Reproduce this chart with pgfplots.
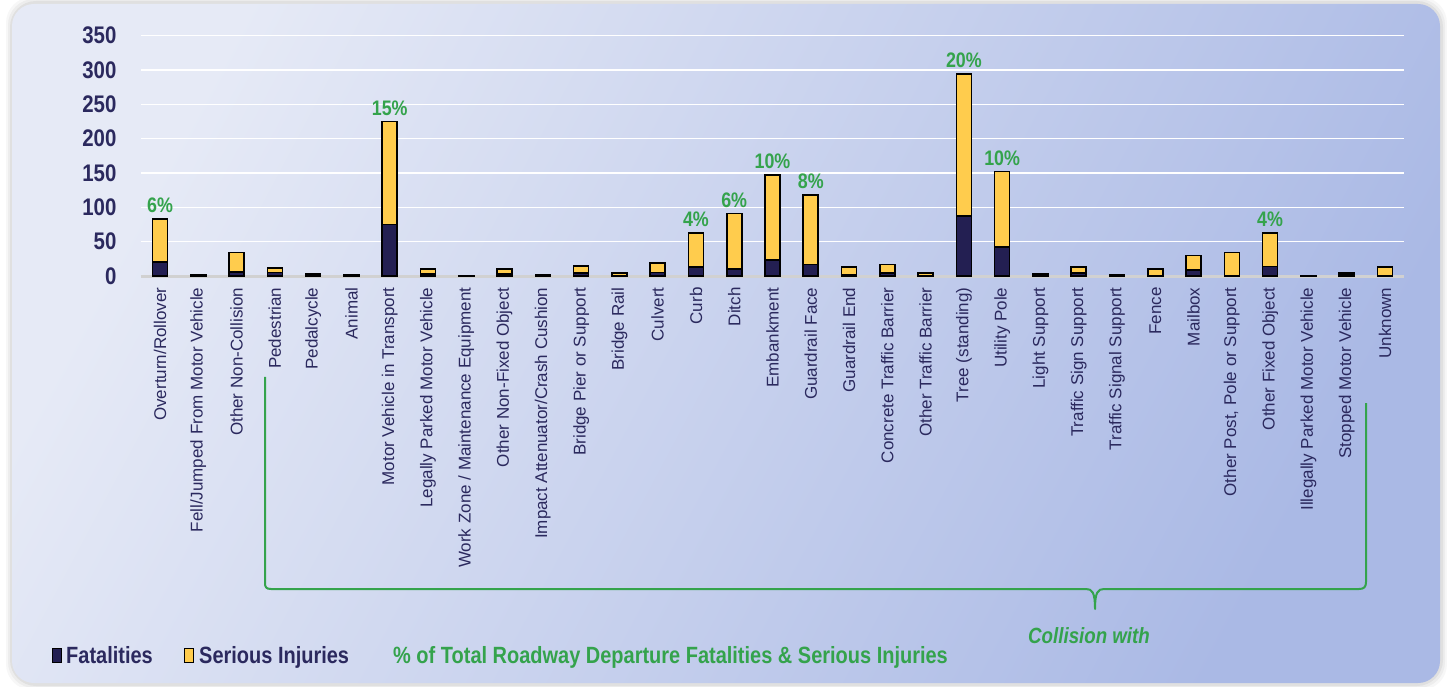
\documentclass[border=0pt]{standalone}
\usepackage{pgfplots}
\pgfplotsset{compat=1.18}
\usepackage{pgfplotstable}
\usepackage{fontspec}
\setmainfont{Liberation Sans}
\newfontfamily\nb[FakeStretch=0.85]{Liberation Sans}

\definecolor{navy}{RGB}{35,31,82}
\definecolor{txt}{RGB}{43,41,94}
\definecolor{gold}{RGB}{255,204,77}
\definecolor{grn}{RGB}{52,163,76}
\definecolor{bgA}{RGB}{230,234,246}
\definecolor{bgB}{RGB}{170,185,229}

\newcommand\xtfont{\fontsize{17}{20}\selectfont}
\newcommand\ytfont{\nb\bfseries\fontsize{24}{27}\selectfont}
\newcommand\lgfont{\nb\bfseries\fontsize{23.5}{26}\selectfont}
\newcommand\pcfont{\nb\bfseries\fontsize{21}{24}\selectfont}

\pgfplotstableread{
x fat ser lab
0 20 63 6\%
1 1 1 {}
2 6 28 {}
3 5 7 {}
4 2 1 {}
5 1 1 {}
6 75 150 15\%
7 3 7 {}
8 0 1 {}
9 3 7 {}
10 1 1 {}
11 4 11 {}
12 1 3 {}
13 5 14 {}
14 13 50 4\%
15 10 81 6\%
16 23 124 10\%
17 17 101 8\%
18 2 11 {}
19 4 13 {}
20 1 3 {}
21 87 207 20\%
22 42 110 10\%
23 2 1 {}
24 4 9 {}
25 1 1 {}
26 1 9 {}
27 9 21 {}
28 1 33 {}
29 14 49 4\%
30 0 1 {}
31 3 1 {}
32 1 12 {}
}\data

\pgfplotsset{frame/.style={
  at={(140.9pt,410pt)}, anchor=south west,
  scale only axis, width=1263.2pt, height=240.3pt,
  xmin=-0.5, xmax=32.5, ymin=0, ymax=350, clip=false}}

\begin{document}
\begin{tikzpicture}
\useasboundingbox (0pt,0pt) rectangle (1447pt,686pt);
\fill[white] (0pt,0pt) rectangle (1447pt,686pt);
\foreach \d/\o in {6/0.03,4/0.04,2/0.05}{
  \fill[black, opacity=\o, rounded corners=26pt] (12pt-\d pt,2pt-\d pt) rectangle (1441pt+\d pt,683pt+\d pt);
}
\shade[rounded corners=22pt, top color=bgA, bottom color=bgB, shading angle=62] (12pt,3pt) rectangle (1440pt,682pt);

\begin{axis}[
  frame,
  ybar stacked, bar width=15pt,
  ytick={0,50,...,350},
  xtick={0,...,32},
  xticklabels={Overturn/Rollover, Fell/Jumped From Motor Vehicle, Other Non-Collision, Pedestrian, Pedalcycle, Animal, Motor Vehicle in Transport, Legally Parked Motor Vehicle, Work Zone / Maintenance Equipment, Other Non-Fixed Object, Impact Attenuator/Crash Cushion, Bridge Pier or Support, Bridge Rail, Culvert, Curb, Ditch, Embankment, Guardrail Face, Guardrail End, Concrete Traffic Barrier, Other Traffic Barrier, Tree (standing), Utility Pole, Light Support, Traffic Sign Support, Traffic Signal Support, Fence, Mailbox, {Other Post, Pole or Support}, Other Fixed Object, Illegally Parked Motor Vehicle, Stopped Motor Vehicle, Unknown},
  major tick length=0pt,
  axis x line*=bottom, axis y line*=left,
  x axis line style={draw=black!18, line width=3pt},
  y axis line style={draw=none},
  ymajorgrids, grid style={white, line width=1.6pt},
  xticklabel style={rotate=90, anchor=east, font=\xtfont, text=txt},
  xticklabel shift=8pt,
  yticklabel style={font=\ytfont, text=txt, xshift=-21pt},
  /pgf/number format/assume math mode=true,
]
\addplot[fill=navy, draw=black, line width=1.6pt] table[x=x, y=fat]{\data};
\addplot[fill=gold, draw=black, line width=1.6pt] table[x=x, y=ser]{\data};
\end{axis}

\begin{axis}[frame, hide axis]
\addplot[draw=none, mark=none,
  nodes near coords, point meta=explicit symbolic,
  every node near coord/.style={font=\pcfont, text=grn, anchor=south, inner sep=0pt, yshift=6pt}]
  table[x=x, y expr=\thisrow{fat}+\thisrow{ser}, meta=lab]{\data};
\end{axis}

% bracket
\draw[grn, line width=2pt, line join=round]
  (265pt,309pt) -- (265pt,103pt) .. controls (265pt,99pt) and (266pt,97pt) .. (271pt,97pt)
  -- (1086pt,97pt) .. controls (1092pt,97pt) and (1095pt,94pt) .. (1095pt,77pt)
  .. controls (1095pt,94pt) and (1098pt,97pt) .. (1104pt,97pt)
  -- (1359pt,97pt) .. controls (1364pt,97pt) and (1366pt,99pt) .. (1366pt,104pt)
  -- (1366pt,283pt);
\node[font=\nb\bfseries\itshape\fontsize{22}{26}\selectfont, text=grn, anchor=base] at (1089pt,43pt) {Collision with};

% legend
\fill[navy, draw=black, line width=1pt] (52pt,24pt) rectangle (61pt,38pt);
\node[font=\lgfont, text=txt, anchor=base west, inner sep=0pt] at (66pt,23pt) {Fatalities};
\fill[gold, draw=black, line width=1pt] (184pt,24pt) rectangle (193pt,38pt);
\node[font=\lgfont, text=txt, anchor=base west, inner sep=0pt] at (199pt,23pt) {Serious Injuries};
\node[font=\lgfont, text=grn, anchor=base west, inner sep=0pt] at (393pt,23pt) {\% of Total Roadway Departure Fatalities \& Serious Injuries};
\end{tikzpicture}
\end{document}
